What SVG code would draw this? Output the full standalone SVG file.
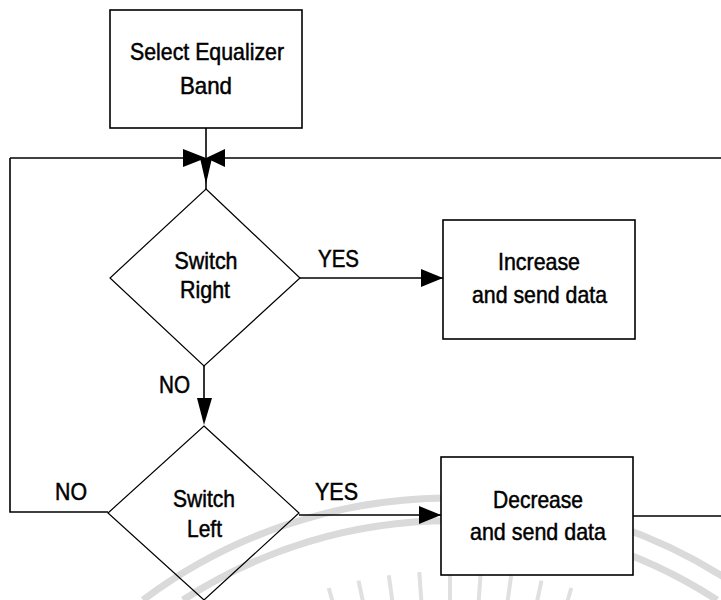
<svg xmlns="http://www.w3.org/2000/svg" width="721" height="600" viewBox="0 0 721 600">
<style>
.t{font-family:"Liberation Sans",Arial,sans-serif;font-size:24px;fill:#000;stroke:#000;stroke-width:0.5;text-anchor:middle}
.l{font-family:"Liberation Sans",Arial,sans-serif;font-size:24px;fill:#000;stroke:#000;stroke-width:0.5}
.box{fill:#fff;stroke:#000;stroke-width:1.6}
.dia{fill:none;stroke:#000;stroke-width:1.2}
.c{fill:none;stroke:#000;stroke-width:1.6}
.wm{fill:none;stroke:#dadada;stroke-width:7}
.ray{stroke:#e0e0e0;stroke-width:4}
</style>
<defs>
<marker id="ah" markerUnits="userSpaceOnUse" markerWidth="23" markerHeight="18" refX="22" refY="9" orient="auto">
<path d="M0,0 L22,9 L0,18 z" fill="#000"/>
</marker>
</defs>
<rect width="721" height="600" fill="#fff"/>
<g id="watermark">
<path class="wm" d="M143,600 A513,513 0 0 1 757,600"/>
<path class="wm" d="M183,600 A490,490 0 0 1 717,600"/>
<line class="ray" x1="450" y1="571" x2="450" y2="611"/>
<line class="ray" x1="480.7" y1="572.1" x2="477.9" y2="612"/>
<line class="ray" x1="419.3" y1="572.1" x2="422.1" y2="612"/>
<line class="ray" x1="511.2" y1="575.3" x2="505.7" y2="615"/>
<line class="ray" x1="388.8" y1="575.3" x2="394.3" y2="615"/>
<line class="ray" x1="541.5" y1="580.6" x2="533.2" y2="619.8"/>
<line class="ray" x1="358.5" y1="580.6" x2="366.8" y2="619.8"/>
<line class="ray" x1="571.3" y1="588" x2="560.2" y2="626.5"/>
<line class="ray" x1="328.7" y1="588" x2="339.8" y2="626.5"/>
</g>
<g id="connectors">
<path class="c" d="M206,128 V189"/>
<path class="c" d="M10,158 H183"/>
<path class="c" d="M225,158 H721"/>
<path class="c" d="M108,512 H10 V158"/>
<polygon points="183,149 206,158 183,167" fill="#000"/>
<polygon points="225,149 206,158 225,167" fill="#000"/>
<polygon points="200,158 212,158 206,184" fill="#000"/>
<path class="c" d="M300,278 H443" marker-end="url(#ah)"/>
<path class="c" d="M204,366 V398"/>
<polygon points="197,398 212,398 204,425" fill="#000"/>
<path class="c" d="M299,515 H441" marker-end="url(#ah)"/>
<path class="c" d="M633,516 H721"/>
<text class="l" x="318" y="267" textLength="41" lengthAdjust="spacingAndGlyphs">YES</text>
<text class="l" x="159" y="393" textLength="31" lengthAdjust="spacingAndGlyphs">NO</text>
<text class="l" x="55" y="500" textLength="32" lengthAdjust="spacingAndGlyphs">NO</text>
<text class="l" x="315" y="500" textLength="43" lengthAdjust="spacingAndGlyphs">YES</text>
</g>
<g id="select-band">
<rect class="box" x="110" y="10" width="192" height="118"/>
<text class="t" x="207" y="60" textLength="154" lengthAdjust="spacingAndGlyphs">Select Equalizer</text>
<text class="t" x="206" y="94" textLength="52" lengthAdjust="spacingAndGlyphs">Band</text>
</g>
<g id="switch-right">
<polygon class="dia" points="206,189 300,278 204,366 110,278"/>
<text class="t" x="206" y="269" textLength="63" lengthAdjust="spacingAndGlyphs">Switch</text>
<text class="t" x="205" y="298" textLength="50" lengthAdjust="spacingAndGlyphs">Right</text>
</g>
<g id="increase">
<rect class="box" x="443" y="220" width="192" height="119"/>
<text class="t" x="539" y="270" textLength="82" lengthAdjust="spacingAndGlyphs">Increase</text>
<text class="t" x="539.5" y="303" textLength="135" lengthAdjust="spacingAndGlyphs">and send data</text>
</g>
<g id="switch-left">
<polygon class="dia" points="204,426 299,513 204,600 108,513"/>
<text class="t" x="204" y="507" textLength="62" lengthAdjust="spacingAndGlyphs">Switch</text>
<text class="t" x="204.5" y="537" textLength="35" lengthAdjust="spacingAndGlyphs">Left</text>
</g>
<g id="decrease">
<rect class="box" x="441" y="457" width="192" height="118"/>
<text class="t" x="538" y="508" textLength="90" lengthAdjust="spacingAndGlyphs">Decrease</text>
<text class="t" x="538" y="540" textLength="136" lengthAdjust="spacingAndGlyphs">and send data</text>
</g>
</svg>
